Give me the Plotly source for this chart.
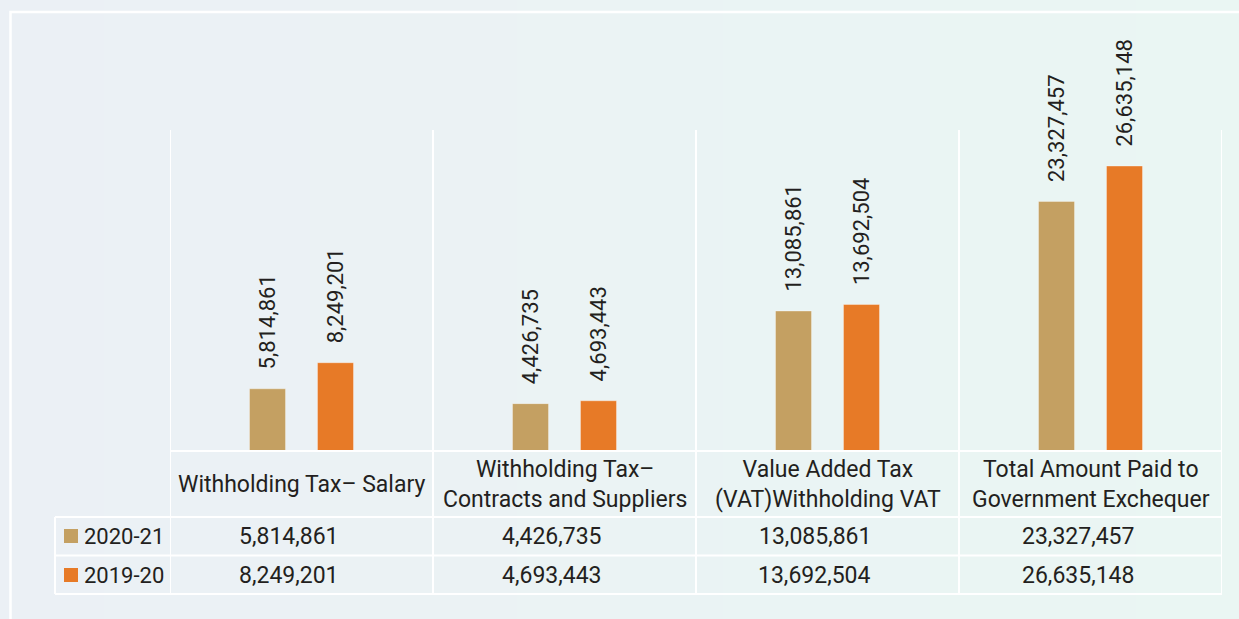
import plotly.graph_objects as go

categories = ["Withholding Tax– Salary",
              "Withholding Tax–<br>Contracts and Suppliers",
              "Value Added Tax<br>(VAT)Withholding VAT",
              "Total Amount Paid to<br>Government Exchequer"]
series_names = ["2020-21", "2019-20"]
values_2020_21 = [5814861, 4426735, 13085861, 23327457]
values_2019_20 = [8249201, 4693443, 13692504, 26635148]

W, H = 1239, 619
def px(x):
    return x / W
def py(y):
    return 1 - y / H

C_TAN = "#C4A062"
C_ORANGE = "#E77A27"
TXT = "#231F20"
FONT = "Roboto"
PAD = "\u00A0\u00A0\u00A0"

fig = go.Figure()

# background gradient (first subplot -> drawn underneath)
fig.add_trace(go.Heatmap(x=[0, 1], y=[0, 1], z=[[0, 1], [0, 1]],
                         colorscale=[[0, "#EBF0F5"], [1, "#EAF6F3"]],
                         zsmooth="best", showscale=False, hoverinfo="skip",
                         xaxis="x", yaxis="y"))

xs = list(range(len(categories)))
fmt = lambda v: f"{v:,}"
for name, vals, col in [(series_names[0], values_2020_21, C_TAN),
                        (series_names[1], values_2019_20, C_ORANGE)]:
    fig.add_trace(go.Bar(x=xs, y=vals, name=name,
                         marker=dict(color=col, line=dict(width=0.8, color="rgba(255,255,255,0.45)")),
                         text=[PAD + fmt(v) for v in vals], textposition="outside",
                         textangle=-90, constraintext="none", cliponaxis=False,
                         textfont=dict(family=FONT, size=22, color=TXT),
                         xaxis="x2", yaxis="y2", showlegend=False))

shapes = []
LINE = dict(color="white", width=2)
for i in range(len(categories) + 1):
    shapes.append(dict(type="line", xref="x2", yref="paper", x0=i - 0.5, x1=i - 0.5,
                       y0=py(594), y1=py(130), line=LINE))
shapes.append(dict(type="line", xref="paper", yref="paper", x0=px(170), x1=px(1222),
                   y0=py(451), y1=py(451), line=LINE))
for yy in [517, 555.5, 594]:
    shapes.append(dict(type="line", xref="paper", yref="paper", x0=px(55), x1=px(1222),
                       y0=py(yy), y1=py(yy), line=LINE))
shapes.append(dict(type="line", xref="paper", yref="paper", x0=px(55), x1=px(55),
                   y0=py(594), y1=py(517), line=LINE))
shapes.append(dict(type="rect", xref="paper", yref="paper", x0=px(10.5), x1=px(1260),
                   y0=py(640), y1=py(12), line=dict(color="white", width=2.5)))
for yc, col in [(536, C_TAN), (575, C_ORANGE)]:
    shapes.append(dict(type="rect", xref="paper", yref="paper", x0=px(64), x1=px(78),
                       y0=py(yc + 7), y1=py(yc - 7), fillcolor=col, line=dict(width=0)))

ann = []
for i, c in enumerate(categories):
    ann.append(dict(x=i, y=py(484), xref="x2", yref="paper", text=c, showarrow=False,
                    font=dict(family=FONT, size=23, color=TXT), xanchor="center", yanchor="middle"))
    ann.append(dict(x=i, y=py(536), xref="x2", yref="paper", text=fmt(values_2020_21[i]), showarrow=False,
                    font=dict(family=FONT, size=23, color=TXT), xanchor="center", yanchor="middle", xshift=-13))
    ann.append(dict(x=i, y=py(575), xref="x2", yref="paper", text=fmt(values_2019_20[i]), showarrow=False,
                    font=dict(family=FONT, size=23, color=TXT), xanchor="center", yanchor="middle", xshift=-13))
for yc, nm in [(536, series_names[0]), (575, series_names[1])]:
    ann.append(dict(x=px(82), y=py(yc), xref="paper", yref="paper", text=nm, showarrow=False,
                    font=dict(family=FONT, size=22, color=TXT), xanchor="left", yanchor="middle"))

fig.update_layout(
    width=W, height=H, margin=dict(l=0, r=0, t=0, b=0),
    paper_bgcolor="#EAF3F5", plot_bgcolor="rgba(0,0,0,0)",
    barmode="group", bargap=0.483, bargroupgap=0.47,
    xaxis=dict(domain=[0, 1], range=[0, 1], visible=False, fixedrange=True),
    yaxis=dict(domain=[0, 1], range=[0, 1], visible=False, fixedrange=True),
    xaxis2=dict(domain=[px(170), px(1222)], range=[-0.5, 3.5], visible=False, anchor="y2"),
    yaxis2=dict(domain=[py(451), py(130)], range=[0, 30000000], visible=False, anchor="x2"),
    shapes=shapes, annotations=ann, showlegend=False,
)

fig.write_html("out.html", config={"displayModeBar": False},
               post_script="document.body.style.margin='0';document.body.style.overflow='hidden';")
